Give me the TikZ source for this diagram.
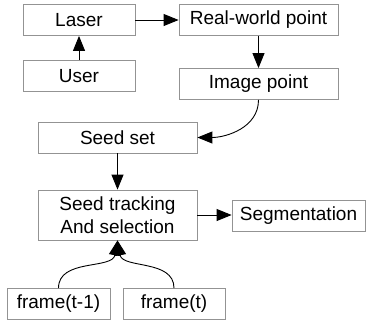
\documentclass[tikz,border=0pt]{standalone}
\usepackage{fontspec}
\setmainfont{Liberation Sans}
\usetikzlibrary{arrows.meta}
\begin{document}
\begin{tikzpicture}[x=1pt, y=-1pt,
        box/.style={draw=gray!85, line width=0.8pt, minimum height=31pt, inner sep=0pt, align=center, font=\fontsize{19}{22.5}\selectfont},
        arr/.style={-{Triangle[length=15pt, width=12pt]}, line width=0.9pt}]
        \useasboundingbox (0,0) rectangle (372,322);
        
        %the boxes
        \node [box, minimum width=112pt] (laser) at (79,20) {Laser};
        \node [box, minimum width=112pt] (user) at (79,76) {User};
        \node [box, minimum width=159pt] (realworld) at (258.5,20) {Real-world point};
        \node [box, minimum width=159pt] (imagepoint) at (258.5,84) {Image point};
        \node [box, minimum width=159pt] (seedset) at (117.5,137.5) {Seed set};
        \node [box, minimum width=159pt, minimum height=50pt] (tracking) at (117.5,215) {Seed tracking\\And selection};
        \node [box, minimum width=133pt] (segmentation) at (298.5,216) {Segmentation};
        \node [box, minimum width=103pt] (prevframe) at (58.5,304) {frame(t-1)};
        \node [box, minimum width=102pt] (curframe) at (174,304) {frame(t)};
        
        %the arrows
        \draw [arr] (laser) -- (realworld);
        \draw [arr] (user) -- (laser);
        \draw [arr] (realworld) -- (imagepoint);
        \draw [arr] (imagepoint.south) to [out=-90, in=0] (seedset.east);
        \draw [arr] (seedset) -- (tracking);
        \draw [arr] (tracking.east) -- (tracking.east -| segmentation.west);
        \draw [arr] (prevframe.north) to [out=90, in=-100] (tracking.south);
        \draw [arr] (curframe.north) to [out=90, in=-80] (tracking.south);
        
\end{tikzpicture}
\end{document}
